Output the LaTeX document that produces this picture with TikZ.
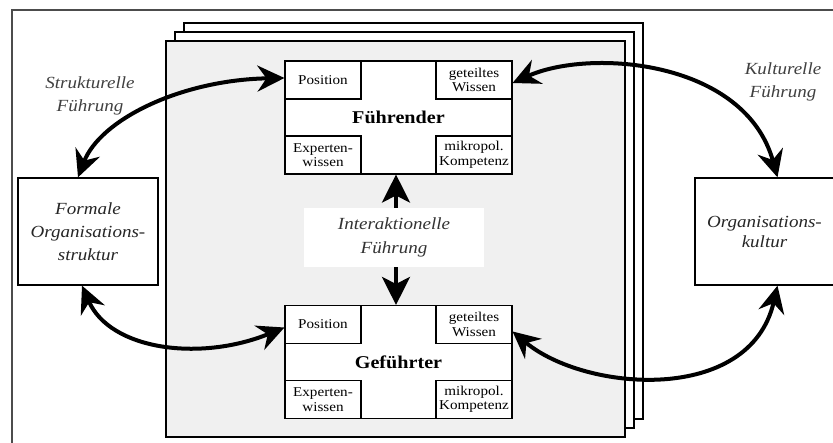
\documentclass[tikz,border=0pt]{standalone}
\usepackage{fontspec}
\setmainfont{Liberation Serif}[FakeStretch=1.12]
\usetikzlibrary{arrows.meta, positioning}

\begin{document}
\begin{tikzpicture}[
        x=1pt, y=-1pt,
        page/.style={draw, line width=1.4pt, fill=white, minimum width=459pt, minimum height=396pt, inner sep=0pt},
        role/.style={draw, line width=1.1pt, fill=white, minimum width=227pt, minimum height=113pt, inner sep=0pt, font=\fontsize{18}{20}\selectfont\bfseries},
        cell/.style={draw, line width=1.1pt, fill=white, minimum width=76pt, minimum height=38pt, inner sep=0pt, align=center, font=\fontsize{13.5}{14.5}\selectfont},
        struct/.style={draw, line width=1.3pt, fill=white, minimum width=140pt, minimum height=107pt, inner sep=0pt, align=center, font=\fontsize{17}{23}\selectfont\itshape, text=black!85},
        lbl/.style={align=center, font=\fontsize{17}{23}\selectfont\itshape, text=black!75},
        link/.style={{Stealth[length=27pt,width=26pt,inset=9pt]}-{Stealth[length=27pt,width=26pt,inset=9pt]}, line width=4pt},
        push/.style={-{Stealth[length=28pt,width=28pt,inset=7pt]}, line width=3.5pt}
    ]
        \useasboundingbox (0,0) rectangle (833,443);
        \clip (0,0) rectangle (833,443);

        % Frame
        \draw[black!70, line width=1.5pt] (12,450) -- (12,10) -- (840,10);

        % Stacked pages
        \node (page3) [page] at (413.5,221) {};
        \node (page2) [page] at (404.5,230) {};
        \node (page1) [page, fill=black!6] at (395.5,239) {};

        % Roles
        \node (fuehrer) [role] at (398.5,117.5) {Führender};
        \node (fpos) [cell, anchor=north west] at (fuehrer.north west) {Position};
        \node (fwis) [cell, anchor=north east] at (fuehrer.north east) {geteiltes\\Wissen};
        \node (fexp) [cell, anchor=south west] at (fuehrer.south west) {Experten-\\wissen};
        \node (fkom) [cell, anchor=south east] at (fuehrer.south east) {mikropol.\\Kompetenz};

        \node (gefuehrt) [role] at (398.5,362) {Geführter};
        \node (gpos) [cell, anchor=north west] at (gefuehrt.north west) {Position};
        \node (gwis) [cell, anchor=north east] at (gefuehrt.north east) {geteiltes\\Wissen};
        \node (gexp) [cell, anchor=south west] at (gefuehrt.south west) {Experten-\\wissen};
        \node (gkom) [cell, anchor=south east] at (gefuehrt.south east) {mikropol.\\Kompetenz};

        \node (inter) [fill=white, minimum width=180pt, minimum height=59pt, inner sep=0pt, align=center,
            font=\fontsize{17}{24}\selectfont\itshape, text=black!80] at (394,237.5) {Interaktionelle\\Führung};

        % Structures
        \node (formal) [struct] at (88,231.5) {Formale\\Organisations-\\struktur};
        \node (kultur) [struct, minimum width=139pt, font=\fontsize{17}{20}\selectfont\itshape] at (764.5,231.5) {Organisations-\\kultur};

        % Labels
        \node (strlbl) [lbl] at (90,96) {Strukturelle\\Führung};
        \node (kullbl) [lbl] at (783,82) {Kulturelle\\Führung};

        % Links
        \draw [push] (inter.north -| 396,0) -- (fuehrer.south -| 396,0);
        \draw [push] (inter.south -| 396,0) -- (gefuehrt.north -| 396,0);
        \draw [link] ([yshift=2pt]fpos.west) .. controls (180,80) and (100,120) .. ([xshift=-10pt]formal.north);
        \draw [link] ([xshift=-6pt]formal.south) .. controls (110,350) and (200,362) .. ([yshift=-3pt]gpos.west);
        \draw [link] ([yshift=-3pt]fwis.east) .. controls (590,48) and (745,60) .. ([xshift=13pt]kultur.north);
        \draw [link] ([yshift=-7pt]gwis.east) .. controls (585,392) and (750,405) .. ([xshift=13pt]kultur.south);
    \end{tikzpicture}
\end{document}
